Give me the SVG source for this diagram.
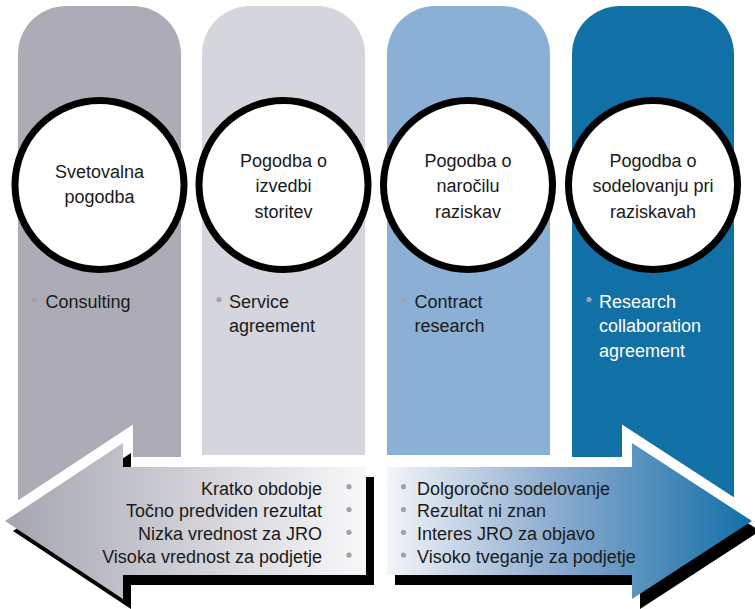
<svg xmlns="http://www.w3.org/2000/svg" width="755" height="609" viewBox="0 0 755 609">
<style>
  .t { font-family: "Liberation Sans", Arial, sans-serif; font-size: 18px; fill: #1a1a1a; }
  .c { text-anchor: middle; }
  .r { text-anchor: end; }
  .w { fill: #ffffff; }
  .ring { fill: #ffffff; stroke: #000000; stroke-width: 7; }
  .dot { fill: #a3a3a6; }
  .halo { fill: #ffffff; stroke: #ffffff; stroke-width: 20; stroke-linejoin: miter; stroke-miterlimit: 10; }
  .shadow { fill: #000000; }
</style>
<defs>
  <linearGradient id="gl" x1="0" y1="0" x2="1" y2="0">
    <stop offset="0" stop-color="#a5a5b0"/>
    <stop offset="1" stop-color="#f8f8fa"/>
  </linearGradient>
  <linearGradient id="gr" x1="0" y1="0" x2="1" y2="0">
    <stop offset="0" stop-color="#f3f5f9"/>
    <stop offset="0.45" stop-color="#8eadd0"/>
    <stop offset="1" stop-color="#136fa8"/>
  </linearGradient>
</defs>

<g id="col1">
  <path d="M18,520 V54 A48,48 0 0 1 66,6 H133 A48,48 0 0 1 181,54 V520 Z" fill="#adacb6"/>
</g>
<g id="col2">
  <path d="M202,455 V54 A48,48 0 0 1 250,6 H317 A48,48 0 0 1 365,54 V455 Z" fill="#d5d5dd"/>
</g>
<g id="col3">
  <path d="M387,455 V54 A48,48 0 0 1 435,6 H502 A48,48 0 0 1 550,54 V455 Z" fill="#8bb0d5"/>
</g>
<g id="col4">
  <path d="M572,520 V54 A48,48 0 0 1 620,6 H686 A48,48 0 0 1 734,54 V520 Z" fill="#1170a6"/>
</g>

<g id="node1">
  <circle class="ring" cx="99.5" cy="185" r="84.5"/>
  <text class="t c" x="99.5" y="178">Svetovalna</text>
  <text class="t c" x="99.5" y="203">pogodba</text>
  <circle class="dot" cx="34.5" cy="299.5" r="2.6"/>
  <text class="t" x="45.5" y="307.5">Consulting</text>
</g>
<g id="node2">
  <circle class="ring" cx="283.5" cy="185" r="84.5"/>
  <text class="t c" x="283.5" y="166.5">Pogodba o</text>
  <text class="t c" x="283.5" y="192">izvedbi</text>
  <text class="t c" x="283.5" y="217.5">storitev</text>
  <circle class="dot" cx="219" cy="299.5" r="2.6"/>
  <text class="t" x="229" y="307.5">Service</text>
  <text class="t" x="229" y="332">agreement</text>
</g>
<g id="node3">
  <circle class="ring" cx="468" cy="185" r="84.5"/>
  <text class="t c" x="468" y="166.5">Pogodba o</text>
  <text class="t c" x="468" y="192">naročilu</text>
  <text class="t c" x="468" y="217.5">raziskav</text>
  <circle class="dot" cx="404" cy="299.5" r="2.6"/>
  <text class="t" x="414.5" y="307.5">Contract</text>
  <text class="t" x="414.5" y="332">research</text>
</g>
<g id="node4">
  <circle class="ring" cx="653" cy="185" r="84.5"/>
  <text class="t c" x="653" y="166.5">Pogodba o</text>
  <text class="t c" x="653" y="192">sodelovanju pri</text>
  <text class="t c" x="653" y="217.5">raziskavah</text>
  <circle class="dot" cx="589" cy="299.5" r="2.6"/>
  <text class="t w" x="599" y="307.5">Research</text>
  <text class="t w" x="599" y="332">collaboration</text>
  <text class="t w" x="599" y="356.5">agreement</text>
</g>

<g id="connectors">
  <polygon class="halo" points="5,521 123,443 123,467 366,467 366,575 123,575 123,599"/>
  <polygon class="halo" points="387,467 632,467 632,443 752,521 632,599 632,575 387,575"/>
  <polygon class="shadow" points="13,531 131,453 131,477 374,477 374,585 131,585 131,609"/>
  <polygon class="shadow" points="395,477 640,477 640,453 760,531 640,609 640,585 395,585"/>
  <polygon fill="url(#gl)" points="5,521 123,443 123,467 366,467 366,575 123,575 123,599"/>
  <polygon fill="url(#gr)" points="387,467 632,467 632,443 752,521 632,599 632,575 387,575"/>
</g>

<g id="left-list">
  <text class="t r" x="322" y="494.5">Kratko obdobje</text>
  <text class="t r" x="322" y="517.3">Točno predviden rezultat</text>
  <text class="t r" x="322" y="540.1">Nizka vrednost za JRO</text>
  <text class="t r" x="322" y="562.9">Visoka vrednost za podjetje</text>
  <circle class="dot" cx="349" cy="486.7" r="2.6"/>
  <circle class="dot" cx="349" cy="509.5" r="2.6"/>
  <circle class="dot" cx="349" cy="532.3" r="2.6"/>
  <circle class="dot" cx="349" cy="555.1" r="2.6"/>
</g>
<g id="right-list">
  <circle class="dot" cx="403.5" cy="486.7" r="2.6"/>
  <circle class="dot" cx="403.5" cy="509.5" r="2.6"/>
  <circle class="dot" cx="403.5" cy="532.3" r="2.6"/>
  <circle class="dot" cx="403.5" cy="555.1" r="2.6"/>
  <text class="t" x="417" y="494.5">Dolgoročno sodelovanje</text>
  <text class="t" x="417" y="517.3">Rezultat ni znan</text>
  <text class="t" x="417" y="540.1">Interes JRO za objavo</text>
  <text class="t" x="417" y="562.9">Visoko tveganje za podjetje</text>
</g>
</svg>
